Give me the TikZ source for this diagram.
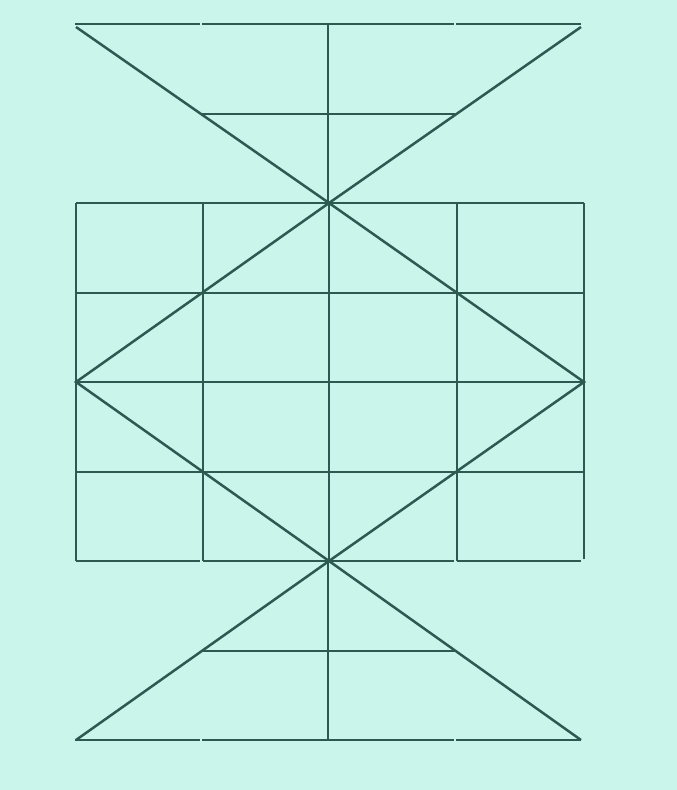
\documentclass[tikz,border=0pt]{standalone}
\definecolor{bgc}{RGB}{202,245,234}
\definecolor{lnc}{RGB}{45,90,80}
\begin{document}
\begin{tikzpicture}[x=1pt,y=-1pt,ln/.style={draw=lnc,line width=2pt},dg/.style={draw=lnc,line width=2.5pt}]
\fill[bgc] (0,0) rectangle (677,790);
\useasboundingbox (0,0) rectangle (677,790);
% top triangle
\draw[ln] (75,24) -- (200,24);
\draw[ln] (202,24) -- (454,24);
\draw[ln] (456,24) -- (581,24);
\draw[dg] (76,27) -- (329,203) -- (581,27);
\draw[ln] (328,24) -- (328,203);
\draw[ln] (202,114) -- (455,114);
% grid
\foreach \y in {203,293,382,472} \draw[ln] (76,\y) -- (584,\y);
\draw[ln] (76,561) -- (200,561);
\draw[ln] (203,561) -- (454,561);
\draw[ln] (457,561) -- (581,561);
\foreach \x in {76,203,329,457} \draw[ln] (\x,203) -- (\x,561);
\draw[ln] (584,203) -- (584,559);
% diamond
\draw[dg] (329,203) -- (76,382) -- (329,561) -- (584,382) -- cycle;
% bottom triangle
\draw[dg] (76,740) -- (329,561) -- (581,740);
\draw[ln] (328,561) -- (328,740);
\draw[ln] (202,651) -- (455,651);
\draw[ln] (75,740) -- (200,740);
\draw[ln] (202,740) -- (454,740);
\draw[ln] (456,740) -- (581,740);
\end{tikzpicture}
\end{document}
